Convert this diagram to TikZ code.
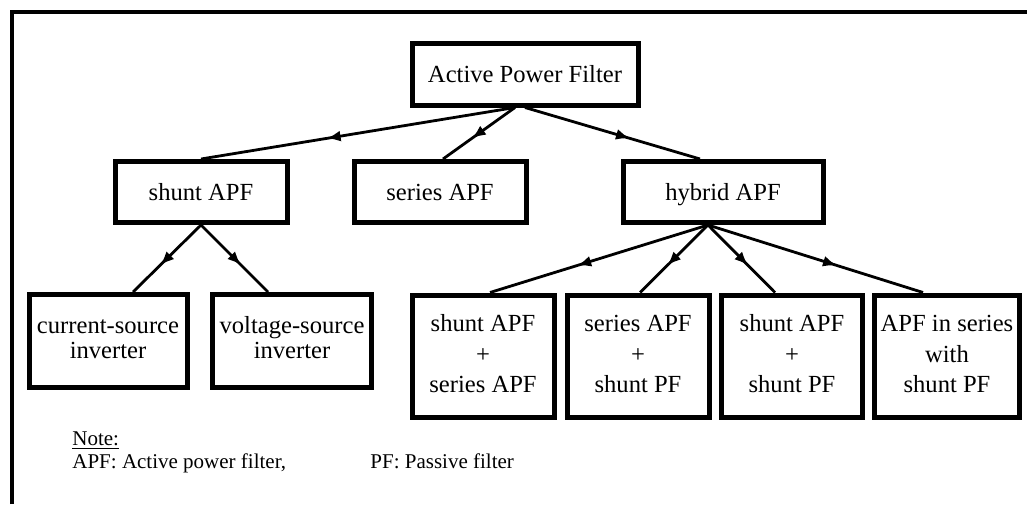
\documentclass[tikz,border=0pt]{standalone}
\usepackage{fontspec}
\setmainfont{Liberation Serif}
\usetikzlibrary{arrows.meta,decorations.markings,calc}
\begin{document}
\begin{tikzpicture}[x=0.5pt,y=-0.5pt,
  box/.style={draw,line width=2.5pt,inner sep=0pt,align=center,font=\fontsize{12.3}{12.5}\selectfont},
  onebox/.style={box,text height=10pt,text depth=2pt},
  tallbox/.style={box,font=\fontsize{12.3}{15.4}\selectfont,minimum width=71pt,minimum height=61pt},
  conn/.style={line width=1.4pt,postaction={decorate},
    decoration={markings,mark=at position 0.6 with {\arrow{Latex[length=7pt,width=5.5pt]}}}},
  notetext/.style={anchor=base west,inner sep=0pt,font=\fontsize{10.5}{12}\selectfont},
  frameline/.style={line width=2pt}]
\useasboundingbox (0,0) rectangle (1027,504);
% frame (top and left edges visible)
\draw[frameline] (12,504) -- (12,12) -- (1027,12);
% nodes
\node[onebox,minimum width=113pt,minimum height=31pt] (root) at (525,74) {Active Power Filter};
\node[onebox,minimum width=86pt,minimum height=30.5pt] (shunt) at (201,192) {shunt APF};
\node[onebox,minimum width=86pt,minimum height=30.5pt] (series) at (440,192) {series APF};
\node[onebox,minimum width=100pt,minimum height=30.5pt] (hybrid) at (723,192) {hybrid APF};
\node[box,minimum width=79pt,minimum height=46.5pt] (csi) at (108,341) {\strut current-source\\inverter\strut};
\node[box,minimum width=79.5pt,minimum height=46.5pt] (vsi) at (292,341) {\strut voltage-source\\inverter\strut};
\node[tallbox] (sa) at (483,356) {\strut shunt APF\\+\\series APF\strut};
\node[tallbox] (sp) at (638,356) {\strut series APF\\+\\shunt PF\strut};
\node[tallbox,minimum width=70.5pt] (ss) at (792,356) {\strut shunt APF\\+\\shunt PF\strut};
\node[tallbox,minimum width=72.5pt] (aw) at (947,356) {\strut APF in series\\with\\shunt PF\strut};
% connectors
\draw[conn] ($(root.south)+(-10,0)$) -- (shunt.north);
\draw[conn] ($(root.south)+(-10,0)$) -- ($(series.north)+(3,0)$);
\draw[conn] (root.south) -- ($(hybrid.north)+(-23,0)$);
\draw[conn] (shunt.south) -- ($(csi.north)+(25,0)$);
\draw[conn] (shunt.south) -- ($(vsi.north)+(-24,0)$);
\draw[conn] ($(hybrid.south)+(-15,0)$) -- ($(sa.north)+(7,0)$);
\draw[conn] ($(hybrid.south)+(-15,0)$) -- ($(sp.north)+(2,0)$);
\draw[conn] ($(hybrid.south)+(-15,0)$) -- ($(ss.north)+(-17,0)$);
\draw[conn] ($(hybrid.south)+(-15,0)$) -- ($(aw.north)+(-24,0)$);
% note
\node[notetext] (note) at (72,445) {\underline{Note:}};
\node[notetext] (apfdef) at (72,468) {APF: Active power filter,};
\node[notetext] (pfdef) at (370,468) {PF: Passive filter};
\end{tikzpicture}
\end{document}
